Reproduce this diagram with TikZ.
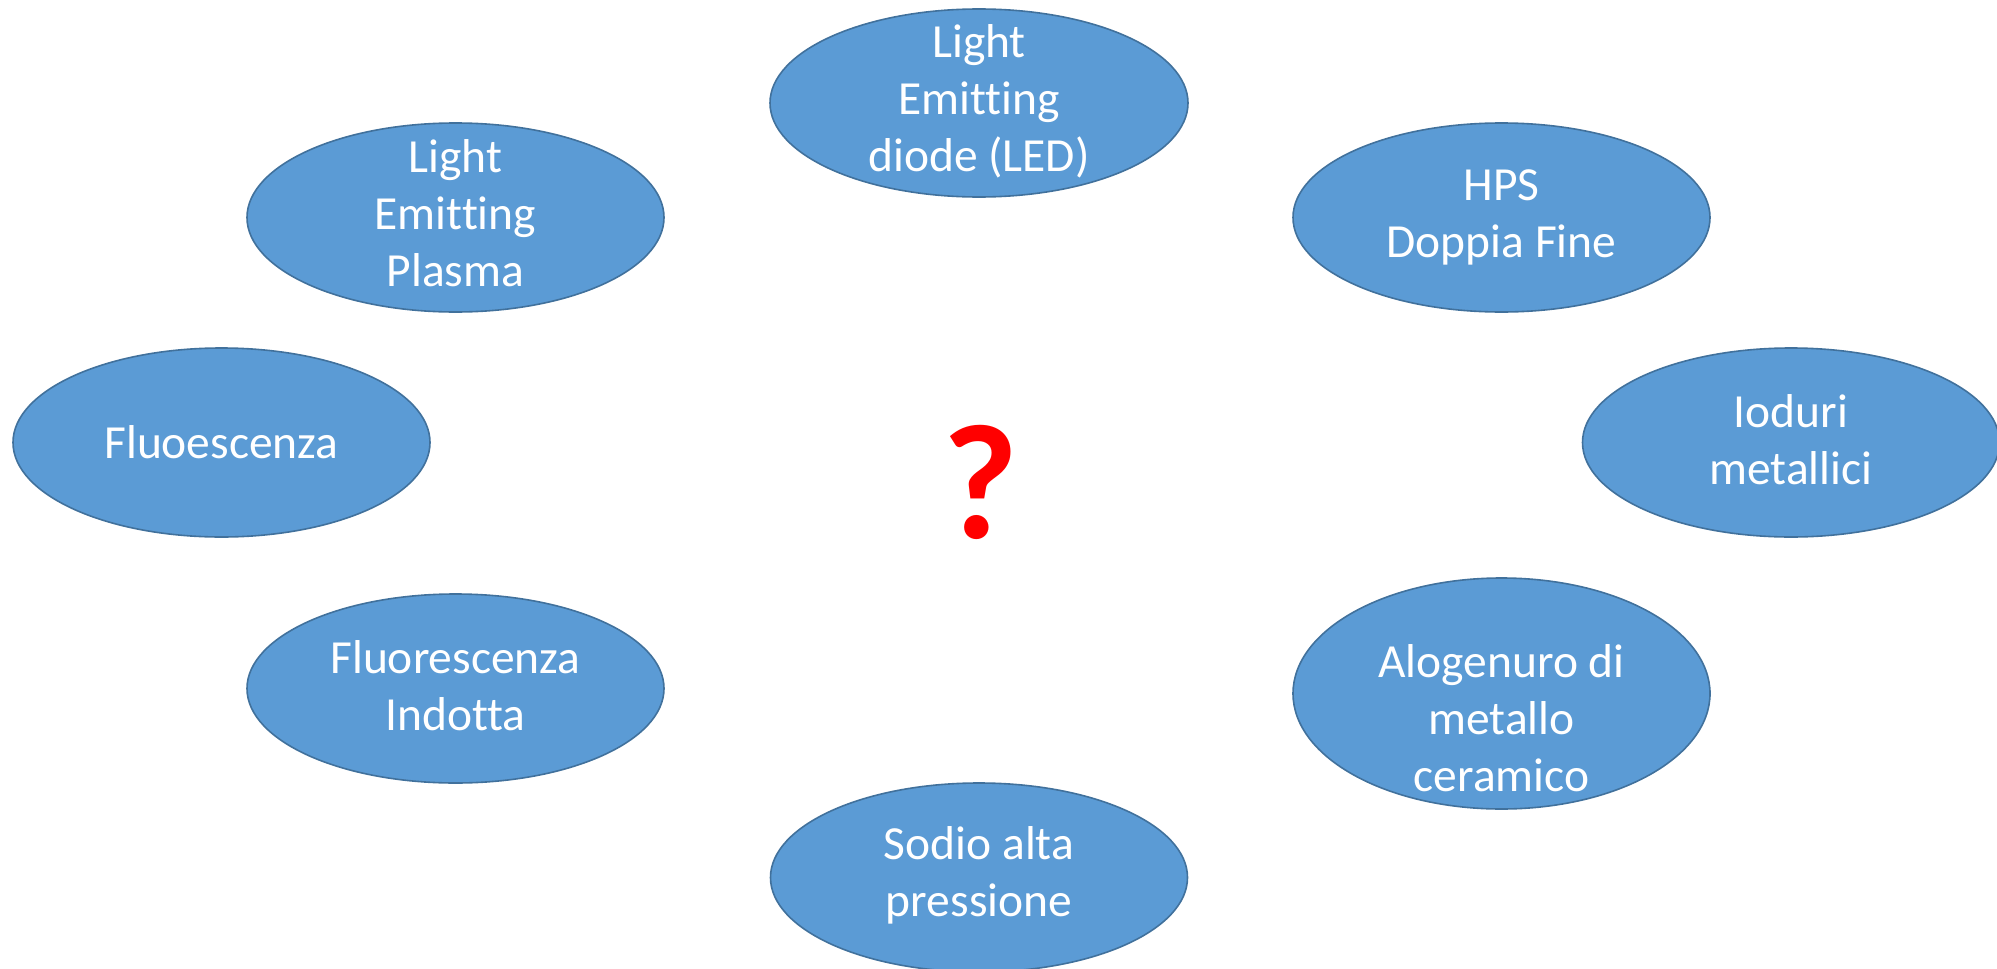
\documentclass[tikz,border=0pt]{standalone}
\usepackage{fontspec}
\setmainfont{Carlito}[Ligatures={NoCommon}]
\usetikzlibrary{shapes.geometric}
\definecolor{lampfill}{HTML}{5B9BD5}
\definecolor{lampline}{HTML}{41719C}
\definecolor{qred}{HTML}{FF0000}
\tikzset{
  lamp/.style={ellipse, draw=lampline, fill=lampfill, line width=1.6pt,
    inner sep=0pt, minimum width=417pt, minimum height=189pt},
  lamptext/.style={text=white, align=center, inner sep=0pt,
    font=\fontsize{47.5}{57}\selectfont,
    execute at begin node=\strut, execute at end node=\strut},
}
\begin{document}
\begin{tikzpicture}[x=1pt, y=-1pt]
  \useasboundingbox (0,0) rectangle (1997,969);

  % lamp families arranged around the question
  \node[lamp, minimum width=418pt, minimum height=188pt] (led) at (979,103) {};
  \node[lamp] (lep)  at (455.5,217.5) {};
  \node[lamp] (hps)  at (1501.5,217.5) {};
  \node[lamp] (fluo) at (221.5,442.5) {};
  \node[lamp] (iod)  at (1791,442.5) {};
  \node[lamp] (ind)  at (455.5,688.5) {};
  \node[lamp, minimum height=231pt] (alo) at (1501.5,693.5) {};
  \node[lamp] (sod)  at (979,877.5) {};

  % labels
  \node[lamptext] (ledt)  at ([yshift=-4pt]led.center)  {Light\\Emitting\\diode (LED)};
  \node[lamptext] (lept)  at ([yshift=-4.5pt]lep.center)  {Light\\Emitting\\Plasma};
  \node[lamptext] (hpst)  at ([yshift=-4.5pt]hps.center)  {HPS\\Doppia Fine};
  \node[lamptext] (fluot) at ([yshift=-5pt]fluo.center) {Fluoescenza};
  \node[lamptext] (iodt)  at ([yshift=-5.5pt]iod.center)  {Ioduri\\metallici};
  \node[lamptext] (indt)  at ([yshift=-5.5pt]ind.center)  {Fluorescenza\\Indotta};
  \node[lamptext] (alot)  at ([yshift=-33.5pt]alo.center) {Alogenuro di\\metallo\\ceramico};
  \node[lamptext] (sodt)  at ([yshift=-3pt]sod.center)  {Sodio alta\\pressione};

  % central question mark
  \node[anchor=base, inner sep=0pt, text=qred,
        font=\bfseries\fontsize{164}{190}\selectfont] (q) at (980,538) {?};
\end{tikzpicture}
\end{document}
